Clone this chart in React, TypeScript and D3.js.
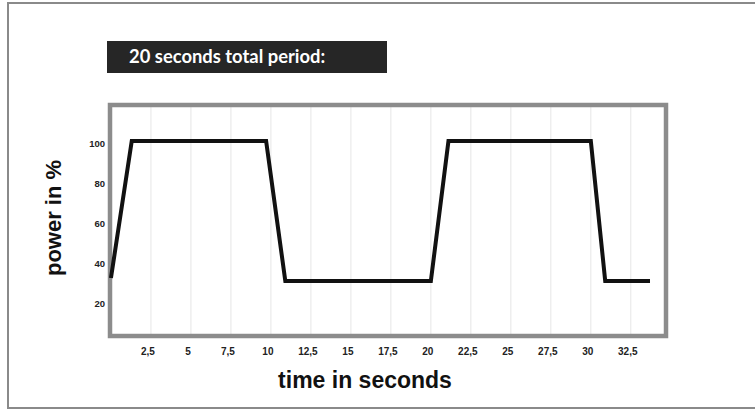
import * as d3 from 'd3';

// time (s) and power (%)
const timeSec = [0, 1.3, 9.7, 10.9, 20, 21.1, 30, 30.9, 33.7];
const powerPct = [31.5, 100, 100, 30, 30, 100, 100, 30, 30];

const xTicks = [2.5, 5, 7.5, 10, 12.5, 15, 17.5, 20, 22.5, 25, 27.5, 30, 32.5];
const xTickLabels = ['2,5', '5', '7,5', '10', '12,5', '15', '17,5', '20', '22,5', '25', '27,5', '30', '32,5'];
const yTicks = [20, 40, 60, 80, 100];

const title = '20 seconds total period:';
const xTitle = 'time in seconds';
const yTitle = 'power in %';

const W = 755;
const H = 410;
const plot = { left: 110, top: 105, right: 666, bottom: 336 };

export default function App() {
  const x = d3.scaleLinear().domain([-0.06, 34.7]).range([plot.left, plot.right]);
  const y = d3.scaleLinear().domain([2.5, 118]).range([plot.bottom, plot.top]);

  const points = timeSec.map((t, i) => [t, powerPct[i]] as [number, number]);
  const line = d3
    .line<[number, number]>()
    .x((d) => x(d[0]))
    .y((d) => y(d[1]));

  const axisFont = 'Liberation Sans, Arial, sans-serif';

  return (
    <svg
      width={W}
      height={H}
      style={{ position: 'fixed', left: 0, top: 0, background: '#fff' }}
    >
      {/* outer frame, open on the right */}
      <path d={`M${W} 3 H8 V408 H${W}`} fill="none" stroke="#8a8a8a" strokeWidth={2} />

      {/* title box */}
      <rect x={107} y={41} width={280} height={32} fill="#262626" />
      <text
        x={129}
        y={63}
        fill="#fff"
        fontFamily="Lato, sans-serif"
        fontWeight={700}
        fontSize={18.4}
      >
        {title}
      </text>

      {/* vertical grid */}
      {xTicks.map((t) => (
        <line
          key={t}
          x1={x(t)}
          x2={x(t)}
          y1={plot.top}
          y2={plot.bottom}
          stroke="#e6e6e6"
          strokeWidth={1}
        />
      ))}

      {/* plot frame */}
      <rect
        x={plot.left}
        y={plot.top}
        width={plot.right - plot.left}
        height={plot.bottom - plot.top}
        fill="none"
        stroke="#8c8c8c"
        strokeWidth={4.5}
      />

      {/* series */}
      <path
        d={line(points) || ''}
        fill="none"
        stroke="#111"
        strokeWidth={4}
        strokeLinejoin="miter"
      />

      {/* y tick labels */}
      {yTicks.map((v) => (
        <text
          key={v}
          x={105}
          y={y(v) + 2}
          dominantBaseline="central"
          textAnchor="end"
          fontFamily={axisFont}
          fontWeight={700}
          fontSize={9.5}
          fill="#222"
        >
          {v}
        </text>
      ))}

      {/* x tick labels */}
      {xTicks.map((t, i) => (
        <text
          key={t}
          x={x(t) - 3}
          y={355}
          textAnchor="middle"
          fontFamily={axisFont}
          fontWeight={700}
          fontSize={10}
          fill="#222"
        >
          {xTickLabels[i]}
        </text>
      ))}

      {/* axis titles */}
      <text
        x={365}
        y={388}
        textAnchor="middle"
        fontFamily={axisFont}
        fontWeight={700}
        fontSize={23}
        fill="#111"
      >
        {xTitle}
      </text>
      <text
        transform={`translate(61,218) rotate(-90)`}
        textAnchor="middle"
        fontFamily={axisFont}
        fontWeight={700}
        fontSize={22}
        fill="#111"
      >
        {yTitle}
      </text>
    </svg>
  );
}
